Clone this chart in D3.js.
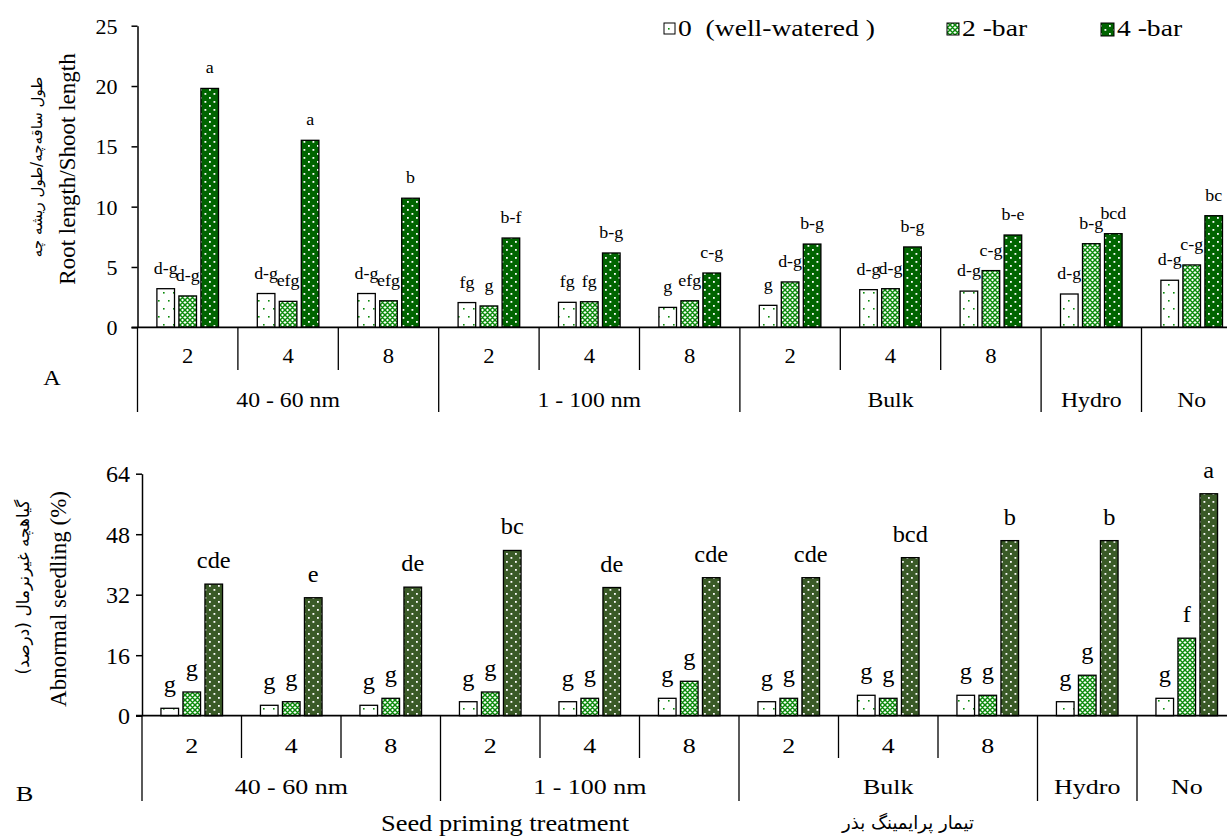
<!DOCTYPE html>
<html><head><meta charset="utf-8">
<script src="https://cdn.jsdelivr.net/npm/d3@7"></script>
<style>
body{margin:0;background:#fff}
text{font-family:"Liberation Serif","Times New Roman",serif;fill:#000}
.fa{font-family:"DejaVu Sans","Noto Sans",sans-serif}
</style>
</head><body>
<svg id="chart" width="1227" height="836"></svg>
<script>
// ---------- data ----------
const categories = ["2","4","8","2","4","8","2","4","8","",""];
const groupNames = ["40 - 60 nm","1 - 100 nm","Bulk","Hydro","No"];
const groupSpans = [3,3,3,1,1];
const seriesNames = ["0  (well-watered )","2 -bar","4 -bar"];

const ratioWellWatered = [3.2,2.8,2.8,2.05,2.07,1.65,1.82,3.12,3.0,2.76,3.9];
const ratio2bar        = [2.6,2.15,2.2,1.77,2.12,2.2,3.76,3.2,4.7,6.93,5.17];
const ratio4bar        = [19.8,15.5,10.7,7.4,6.16,4.5,6.9,6.66,7.65,7.76,9.25];
const ratioLettersWell = ["d-g","d-g","d-g","fg","fg","g","g","d-g","d-g","d-g","d-g"];
const ratioLetters2bar = ["d-g","efg","efg","g","fg","efg","d-g","d-g","c-g","b-g","c-g"];
const ratioLetters4bar = ["a","a","b","b-f","b-g","c-g","b-g","b-g","b-e","bcd","bc"];
const ratioTicks = [0,5,10,15,20,25];

const abnWellWatered = [1.96,2.75,2.75,3.7,3.7,4.6,3.7,5.4,5.4,3.7,4.6];
const abn2bar        = [6.27,3.7,4.6,6.27,4.6,9.1,4.6,4.6,5.4,10.7,20.5];
const abn4bar        = [34.8,31.2,34.0,43.7,33.9,36.5,36.5,41.8,46.3,46.3,58.7];
const abnLettersWell = ["g","g","g","g","g","g","g","g","g","g","g"];
const abnLetters2bar = ["g","g","g","g","g","g","g","g","g","g","f"];
const abnLetters4bar = ["cde","e","de","bc","de","cde","cde","bcd","b","b","a"];
const abnTicks = [0,16,32,48,64];

const yTitleA = "Root length/Shoot length";
const yTitleAfa = "طول ساقه‌چه/طول ریشه چه";
const yTitleB = "Abnormal seedling (%)";
const yTitleBfa = "گیاهچه غیرنرمال (درصد)";
const xTitle = "Seed priming treatment";
const xTitleFa = "تیمار پرایمینگ بذر";

// ---------- setup ----------
const svg = d3.select("#chart");
const defs = svg.append("defs");
const HATCH = "#0a8a0a";

function makePatterns(id, dark) {
  const p0 = defs.append("pattern").attr("id", "w" + id).attr("patternUnits", "userSpaceOnUse")
    .attr("width", 10).attr("height", 16);
  p0.append("rect").attr("width", 10).attr("height", 16).attr("fill", "#fff");
  p0.append("rect").attr("x", 3).attr("y", 4).attr("width", 1.6).attr("height", 1.6).attr("fill", "#0a8a0a");
  p0.append("rect").attr("x", 8).attr("y", 12).attr("width", 1.6).attr("height", 1.6).attr("fill", "#0a8a0a");

  const p1 = defs.append("pattern").attr("id", "h" + id).attr("patternUnits", "userSpaceOnUse")
    .attr("width", 5).attr("height", 5);
  p1.append("rect").attr("width", 5).attr("height", 5).attr("fill", "#fff");
  p1.append("path").attr("d", "M0,0L5,5M5,0L0,5M-1,4L1,6M4,-1L6,1M-1,1L1,-1M4,6L6,4")
    .attr("stroke", HATCH).attr("stroke-width", 1.5);

  const p2 = defs.append("pattern").attr("id", "g" + id).attr("patternUnits", "userSpaceOnUse")
    .attr("width", 9).attr("height", 8);
  p2.append("rect").attr("width", 9).attr("height", 8).attr("fill", dark);
  p2.append("rect").attr("x", 2).attr("y", 1).attr("width", 1.8).attr("height", 1.8).attr("fill", "#fff");
  p2.append("rect").attr("x", 6.5).attr("y", 5).attr("width", 1.8).attr("height", 1.8).attr("fill", "#fff");
  return ["url(#w" + id + ")", "url(#h" + id + ")", "url(#g" + id + ")"];
}

function stext(g, x, y, s, size, sx, anchor) {
  return g.append("text")
    .attr("transform", `translate(${x},${y}) scale(${sx},1)`)
    .attr("text-anchor", anchor || "middle")
    .attr("font-size", size)
    .style("white-space", "pre")
    .text(s);
}

function panel(cfg) {
  const g = svg.append("g");
  const fills = makePatterns(cfg.id, cfg.dark);
  const n = categories.length;
  const x = d3.scaleBand().domain(d3.range(n)).range([cfg.x0, cfg.x0 + n * cfg.gw]).padding(0);
  const w = x.bandwidth();
  const xs = d3.scaleBand().domain([0,1,2]).range([w/2 - 33, w/2 + 33]).paddingInner(0.2).paddingOuter(0.1);
  const y = d3.scaleLinear().domain([0, cfg.max]).range([cfg.y0, cfg.y1]);

  // bars
  cfg.series.forEach((vals, s) => {
    g.append("g").selectAll("rect").data(vals).join("rect")
      .attr("x", (d, i) => x(i) + xs(s))
      .attr("y", d => y(d))
      .attr("width", xs.bandwidth())
      .attr("height", d => y(0) - y(d))
      .attr("fill", fills[s])
      .attr("stroke", "#000").attr("stroke-width", 1.3);
    const lg = g.append("g");
    vals.forEach((d, i) => {
      stext(lg, x(i) + xs(s) + xs.bandwidth()/2, y(d) - cfg.lblOff, cfg.letters[s][i], cfg.lblSize, cfg.lblSx);
    });
  });

  // y axis
  const ax = g.append("g").attr("transform", `translate(${cfg.x0},0)`)
    .call(d3.axisLeft(y).tickValues(cfg.ticks).tickSize(6).tickSizeOuter(0).tickPadding(cfg.tickPad));
  ax.selectAll("path,line").attr("stroke", "#000").attr("stroke-width", 1.5);
  ax.selectAll("text").attr("font-size", cfg.tickSize).attr("font-family", "Liberation Serif").attr("dy", "0.34em");

  // x axis line + separators
  const xEnd = cfg.x0 + n * cfg.gw;
  g.append("line").attr("x1", cfg.x0 - 6).attr("x2", xEnd).attr("y1", y(0)).attr("y2", y(0))
    .attr("stroke", "#000").attr("stroke-width", 1.8);
  const groupStarts = [0];
  groupSpans.reduce((a, b) => { groupStarts.push(a + b); return a + b; }, 0);
  d3.range(n + 1).forEach(i => {
    const xx = i < n ? x(i) : xEnd;
    const long = groupStarts.includes(i);
    g.append("line").attr("x1", xx).attr("x2", xx).attr("y1", y(0))
      .attr("y2", long ? cfg.longEnd : cfg.shortEnd)
      .attr("stroke", "#000").attr("stroke-width", 1.3);
  });
  // category labels
  categories.forEach((c, i) => {
    if (c) stext(g, x(i) + w/2, cfg.catY, c, cfg.catSize, cfg.sx);
  });
  // group labels
  groupNames.forEach((gn, k) => {
    const a = groupStarts[k], b = groupStarts[k + 1];
    stext(g, (x(a) + (b < n ? x(b) : xEnd)) / 2, cfg.grpY, gn, cfg.grpSize, cfg.sx);
  });
  return g;
}

// Panel A
const gA = panel({
  id: "A", dark: "#006400", x0: 137.5, gw: 100.4, y0: 327.3, y1: 25.7, max: 25,
  ticks: ratioTicks, tickPad: 14, tickSize: 22,
  series: [ratioWellWatered, ratio2bar, ratio4bar],
  letters: [ratioLettersWell, ratioLetters2bar, ratioLetters4bar],
  lblOff: 15, lblSize: 16, lblSx: 1.12,
  shortEnd: 370, longEnd: 412, catY: 362.5, catSize: 21, grpY: 406.5, grpSize: 22, sx: 1.08
});
stext(gA, 52, 385, "A", 22, 1.1);
gA.append("text").attr("transform", "translate(75,169) rotate(-90)").attr("text-anchor", "middle")
  .attr("font-size", 23).text(yTitleA);
gA.append("text").attr("class", "fa").attr("transform", "translate(42,167) rotate(-90)").attr("text-anchor", "middle")
  .attr("font-size", 15).attr("direction", "rtl").text(yTitleAfa);

// Legend
const legFills = ["url(#wA)", "url(#hA)", "url(#gA)"];
const legX = [664, 947, 1101];
seriesNames.forEach((s, i) => {
  gA.append("rect").attr("x", legX[i]).attr("y", 23).attr("width", 11 + i).attr("height", 11 + i)
    .attr("fill", legFills[i]).attr("stroke", "#000").attr("stroke-width", 1);
  stext(gA, legX[i] + 14 + i, 36, s, 23, 1.2, "start");
});

// Panel B
const gB = panel({
  id: "B", dark: "#3a5a27", x0: 142, gw: 99.5, y0: 715.7, y1: 473.7, max: 64,
  ticks: abnTicks, tickPad: 6, tickSize: 24,
  series: [abnWellWatered, abn2bar, abn4bar],
  letters: [abnLettersWell, abnLetters2bar, abnLetters4bar],
  lblOff: 16, lblSize: 23, lblSx: 1.06,
  shortEnd: 758, longEnd: 801, catY: 752.5, catSize: 22, grpY: 794, grpSize: 22, sx: 1.18
});
stext(gB, 24.5, 801, "B", 22, 1.2);
gB.append("text").attr("transform", "translate(66,599) rotate(-90)").attr("text-anchor", "middle")
  .attr("font-size", 23).text(yTitleB);
gB.append("text").attr("class", "fa").attr("transform", "translate(29,587) rotate(-90)").attr("text-anchor", "middle")
  .attr("font-size", 17).attr("direction", "rtl").text(yTitleBfa);
stext(gB, 505, 831, xTitle, 23, 1.15);
gB.append("text").attr("class", "fa").attr("x", 908).attr("y", 829).attr("text-anchor", "middle")
  .attr("font-size", 18).attr("direction", "rtl").text(xTitleFa);
</script>
</body></html>
